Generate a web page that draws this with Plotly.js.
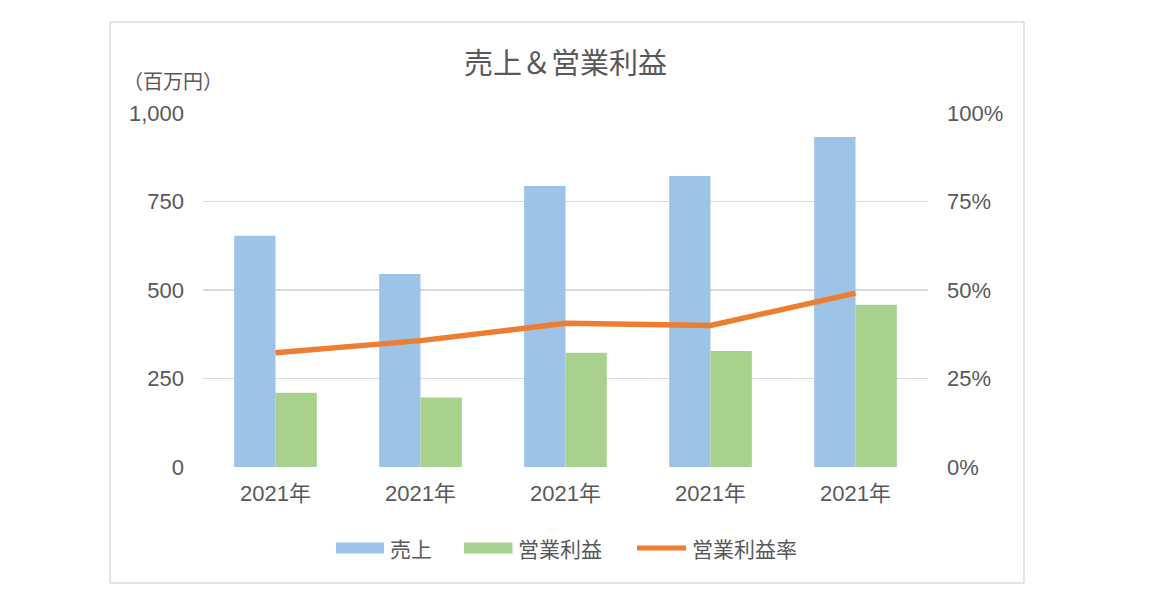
<!DOCTYPE html>
<html>
<head>
<meta charset="utf-8">
<script src="https://cdn.plot.ly/plotly-3.0.1.min.js"></script>
<style>
  html, body { margin: 0; padding: 0; background: #ffffff; }
  #chart { width: 1160px; height: 603px; }
</style>
</head>
<body>
<div id="chart"></div>
<script>
// ---- data ----
const categories = ['2021年', '2021年', '2021年', '2021年', '2021年'];
const sales = [653, 545, 794, 822, 932];            // 売上（百万円）
const operatingProfit = [210, 196, 323, 328, 458];  // 営業利益（百万円）
const operatingMargin = [0.323, 0.357, 0.406, 0.400, 0.491]; // 営業利益率
const leftTicks = [0, 250, 500, 750, 1000];
const rightTicks = [0, 0.25, 0.5, 0.75, 1];
const seriesNames = ['売上', '営業利益', '営業利益率'];

const xIdx = categories.map((_, i) => i);

const textColor = '#595959';
const numFont = 'Liberation Sans, Arial, Noto Sans CJK JP, sans-serif';
const cjkFont = 'Noto Sans CJK JP, Liberation Sans, sans-serif';

const traces = [
  {
    type: 'bar', name: seriesNames[0], x: xIdx, y: sales,
    marker: { color: '#9DC3E6' }, yaxis: 'y', hoverinfo: 'y'
  },
  {
    type: 'bar', name: seriesNames[1], x: xIdx, y: operatingProfit,
    marker: { color: '#A9D18E' }, yaxis: 'y', hoverinfo: 'y'
  },
  {
    type: 'scatter', mode: 'lines', name: seriesNames[2], x: xIdx, y: operatingMargin,
    line: { color: '#ED7D31', width: 5.5 }, yaxis: 'y2', hoverinfo: 'y'
  }
];

// helpers: pixel -> paper
const PL = 203, PR = 928, PT = 113, PB = 467;
const px = v => (v - PL) / (PR - PL);
const py = v => (PB - v) / (PB - PT);

const legendY = py(548);

const layout = {
  width: 1160, height: 603,
  margin: { l: PL, r: 1160 - PR, t: PT, b: 603 - PB, pad: 0 },
  paper_bgcolor: '#ffffff', plot_bgcolor: '#ffffff',
  showlegend: false,
  barmode: 'group', bargap: 0.43, bargroupgap: 0,
  title: {
    text: '売上＆営業利益',
    font: { family: cjkFont, size: 29, color: textColor },
    x: 0.5, xref: 'paper', xanchor: 'center',
    y: 1 - 64 / 603, yref: 'container', yanchor: 'middle'
  },
  xaxis: {
    range: [-0.5, categories.length - 0.5],
    tickmode: 'array', tickvals: xIdx, ticktext: categories,
    showgrid: false, zeroline: false, showline: false, ticks: '',
    ticklabelstandoff: 11,
    tickfont: { family: numFont, size: 22, color: textColor },
    fixedrange: true
  },
  yaxis: {
    range: [0, 1000], tickmode: 'array', tickvals: leftTicks,
    tickformat: ',d',
    showgrid: true, gridcolor: '#D9D9D9', gridwidth: 1.3,
    zeroline: false, showline: false, ticks: '',
    ticklabelstandoff: 18,
    tickfont: { family: numFont, size: 22, color: textColor },
    fixedrange: true
  },
  yaxis2: {
    range: [0, 1], overlaying: 'y', side: 'right',
    tickmode: 'array', tickvals: rightTicks, tickformat: '.0%',
    showgrid: false, zeroline: false, showline: false, ticks: '',
    ticklabelstandoff: 18,
    tickfont: { family: numFont, size: 22, color: textColor },
    fixedrange: true
  },
  shapes: [
    { type: 'rect', xref: 'paper', yref: 'paper',
      x0: px(110), x1: px(1024), y0: py(583), y1: py(22),
      line: { color: '#C9C9C9', width: 1 }, fillcolor: 'rgba(0,0,0,0)', layer: 'below' },
    { type: 'rect', xref: 'paper', yref: 'paper',
      x0: px(336), x1: px(384), y0: py(553.5), y1: py(542.5),
      line: { width: 0 }, fillcolor: '#9DC3E6' },
    { type: 'rect', xref: 'paper', yref: 'paper',
      x0: px(464), x1: px(512.5), y0: py(553.5), y1: py(542.5),
      line: { width: 0 }, fillcolor: '#A9D18E' },
    { type: 'line', xref: 'paper', yref: 'paper',
      x0: px(637), x1: px(686), y0: legendY, y1: legendY,
      line: { color: '#ED7D31', width: 5 } }
  ],
  annotations: [
    { text: '（百万円）', xref: 'paper', yref: 'paper', x: px(121), y: py(80),
      xanchor: 'left', yanchor: 'middle', showarrow: false,
      font: { family: cjkFont, size: 20, color: textColor } },
    { text: seriesNames[0], xref: 'paper', yref: 'paper', x: px(388), y: legendY,
      xanchor: 'left', yanchor: 'middle', showarrow: false,
      font: { family: cjkFont, size: 21, color: textColor } },
    { text: seriesNames[1], xref: 'paper', yref: 'paper', x: px(516), y: legendY,
      xanchor: 'left', yanchor: 'middle', showarrow: false,
      font: { family: cjkFont, size: 21, color: textColor } },
    { text: seriesNames[2], xref: 'paper', yref: 'paper', x: px(690), y: legendY,
      xanchor: 'left', yanchor: 'middle', showarrow: false,
      font: { family: cjkFont, size: 21, color: textColor } }
  ]
};

Plotly.newPlot('chart', traces, layout, { displayModeBar: false, staticPlot: true });
</script>
</body>
</html>
